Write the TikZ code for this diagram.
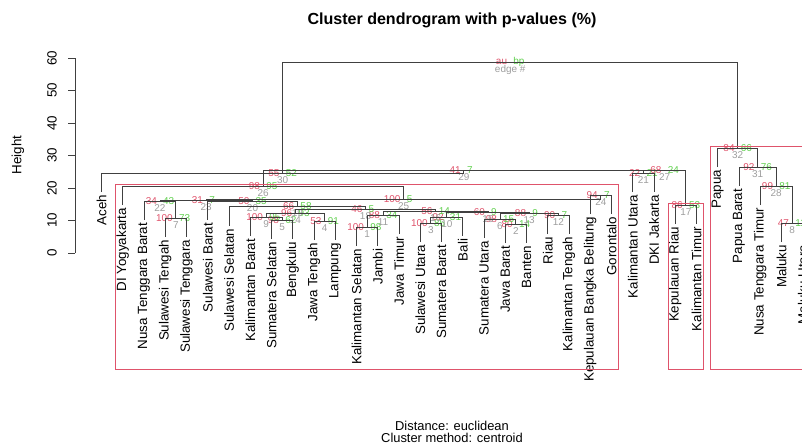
\documentclass[tikz,border=0pt]{standalone}
\usepackage{fontspec}
\setmainfont{Liberation Sans}

\definecolor{aucol}{HTML}{DF536B}
\definecolor{bpcol}{HTML}{61D04F}
\definecolor{edgecol}{HTML}{9E9E9E}

\begin{document}
\begin{tikzpicture}[
  x=0.03cm, y=-0.03cm,
  every node/.style={font=\fontsize{11.4}{13}\selectfont},
  leaf/.style={rotate=90, anchor=east, inner xsep=2.5pt, inner ysep=0pt, outer sep=0pt},
  merge/.style={inner sep=0pt, outer sep=0pt, minimum size=0pt},
  branch/.style={draw=black!75, line width=0.7pt},
  au/.style={text=aucol, inner sep=0.5pt, font=\fontsize{8.5}{10}\selectfont},
  bp/.style={text=bpcol, inner sep=0.5pt, font=\fontsize{8.5}{10}\selectfont},
  edgenum/.style={text=edgecol, inner sep=0.5pt, font=\fontsize{8.5}{10}\selectfont},
  pvrect/.style={draw=aucol, line width=0.7pt},
  label distance=2pt
]
\useasboundingbox (0,0) rectangle (802,448);
\clip (0,0) rectangle (802,448);

% Title and axis
\node[font=\bfseries\fontsize{13.7}{16}\selectfont] (title) at (452,20) {Cluster dendrogram with p-values (\%)};
\node[rotate=90] (ylab) at (18,155) {Height};
\draw[branch] (75,58) -- (75,253);
\foreach \h in {0,10,...,60} {
  \pgfmathsetmacro{\yy}{253-3.25*\h}
  \draw[branch] (75,\yy) -- (68,\yy);
  \node[rotate=90] (tick\h) at (52,\yy) {\h};
}
\node[align=center, font=\fontsize{11}{10.2}\selectfont] (sub) at (452,432) {Distance: euclidean\\Cluster method: centroid};

% Leaves
\node[leaf] (aceh) at (101.5,192) {Aceh};
\node[leaf] (diy) at (122.75,205) {DI Yogyakarta};
\node[leaf] (ntb) at (144,220) {Nusa Tenggara Barat};
\node[leaf] (sulteng) at (165.25,237) {Sulawesi Tengah};
\node[leaf] (sultra) at (186.5,237) {Sulawesi Tenggara};
\node[leaf] (sulbar) at (207.75,220) {Sulawesi Barat};
\node[leaf] (sulsel) at (229,226) {Sulawesi Selatan};
\node[leaf] (kalbar) at (250.25,236) {Kalimantan Barat};
\node[leaf] (sumsel) at (271.5,239) {Sumatera Selatan};
\node[leaf] (bengkulu) at (292.75,239) {Bengkulu};
\node[leaf] (jateng) at (314,240) {Jawa Tengah};
\node[leaf] (lampung) at (335.25,240) {Lampung};
\node[leaf] (kalsel) at (356.5,246) {Kalimantan Selatan};
\node[leaf] (jambi) at (377.75,246) {Jambi};
\node[leaf] (jatim) at (399,234) {Jawa Timur};
\node[leaf] (sulut) at (420.25,242) {Sulawesi Utara};
\node[leaf] (sumbar) at (441.5,242) {Sumatera Barat};
\node[leaf] (bali) at (462.75,236) {Bali};
\node[leaf] (sumut) at (484,238) {Sumatera Utara};
\node[leaf] (jabar) at (505.25,243) {Jawa Barat};
\node[leaf] (banten) at (526.5,243) {Banten};
\node[leaf] (riau) at (547.75,234) {Riau};
\node[leaf] (kalteng) at (569,234) {Kalimantan Tengah};
\node[leaf] (babel) at (590.25,214) {Kepulauan Bangka Belitung};
\node[leaf] (gorontalo) at (611.5,214) {Gorontalo};
\node[leaf] (kalut) at (632.75,192) {Kalimantan Utara};
\node[leaf] (dki) at (654,192) {DKI Jakarta};
\node[leaf] (kepri) at (675.25,224) {Kepulauan Riau};
\node[leaf] (kaltim) at (696.5,224) {Kalimantan Timur};
\node[leaf] (papua) at (717.75,167) {Papua};
\node[leaf] (papbar) at (739,186) {Papua Barat};
\node[leaf] (ntt) at (760.25,205) {Nusa Tenggara Timur};
\node[leaf] (maluku) at (781.5,242) {Maluku};
\node[leaf] (malut) at (802.75,242) {Maluku Utara};

% Merges with au / bp / edge numbers
\node[merge, label={[au]left:100}, label={[bp]right:98}, label={[edgenum]below:1}] (e1) at (367.1,227) {};
\node[merge, label={[au]left:80}, label={[bp]right:14}, label={[edgenum]below:2}] (e2) at (515.9,224) {};
\node[merge, label={[au]left:100}, label={[bp]right:85}, label={[edgenum]below:3}] (e3) at (430.9,223) {};
\node[merge, label={[au]left:53}, label={[bp]right:91}, label={[edgenum]below:4}] (e4) at (324.6,221) {};
\node[merge, label={[au]left:98}, label={[bp]right:62}, label={[edgenum]below:5}] (e5) at (282.1,220) {};
\node[merge, label={[au]left:98}, label={[bp]right:15}, label={[edgenum]below:6}] (e6) at (500,219) {};
\node[merge, label={[au]left:100}, label={[bp]right:73}, label={[edgenum]below:7}] (e7) at (175.9,218) {};
\node[merge, label={[au]left:47}, label={[bp]right:11}, label={[edgenum]below:8}] (e8) at (792.1,223) {};
\node[merge, label={[au]left:100}, label={[bp]right:95}, label={[edgenum]below:9}] (e9) at (266.2,217) {};
\node[merge, label={[au]left:92}, label={[bp]right:31}, label={[edgenum]below:10}] (e10) at (446.8,217) {};
\node[merge, label={[au]left:88}, label={[bp]right:34}, label={[edgenum]below:11}] (e11) at (383.1,215) {};
\node[merge, label={[au]left:90}, label={[bp]right:7}, label={[edgenum]below:12}] (e12) at (558.4,215) {};
\node[merge, label={[au]left:88}, label={[bp]right:9}, label={[edgenum]below:13}] (e13) at (529.2,213) {};
\node[merge, label={[au]left:96}, label={[bp]right:93}, label={[edgenum]below:14}] (e14) at (295.4,213) {};
\node[merge, label={[au]left:60}, label={[bp]right:9}, label={[edgenum]below:15}] (e15) at (488,212) {};
\node[merge, label={[au]left:56}, label={[bp]right:14}, label={[edgenum]below:16}] (e16) at (435.6,211) {};
\node[merge, label={[au]left:86}, label={[bp]right:53}, label={[edgenum]below:17}] (e17) at (685.9,205) {};
\node[merge, label={[au]left:46}, label={[bp]right:5}, label={[edgenum]below:18}] (e18) at (365.5,209) {};
\node[merge, label={[au]left:66}, label={[bp]right:58}, label={[edgenum]below:19}] (e19) at (297.3,206) {};
\node[merge, label={[au]left:50}, label={[bp]right:35}, label={[edgenum]below:20}] (e20) at (252.5,201) {};
\node[merge, label={[au]left:22}, label={[bp]right:21}, label={[edgenum]below:21}] (e21) at (643.4,173) {};
\node[merge, label={[au]left:34}, label={[bp]right:43}, label={[edgenum]below:22}] (e22) at (160,201) {};
\node[merge, label={[au]left:31}, label={[bp]right:7}, label={[edgenum]below:23}] (e23) at (206.2,200) {};
\node[merge, label={[au]left:94}, label={[bp]right:7}, label={[edgenum]below:24}] (e24) at (600.9,195) {};
\node[merge, label={[au]left:100}, label={[bp]right:5}, label={[edgenum]below:25}] (e25) at (403.6,199) {};
\node[merge, label={[au]left:98}, label={[bp]right:95}, label={[edgenum]below:26}] (e26) at (263.2,186) {};
\node[merge, label={[au]left:68}, label={[bp]right:24}, label={[edgenum]below:27}] (e27) at (664.6,170) {};
\node[merge, label={[au]left:99}, label={[bp]right:81}, label={[edgenum]below:28}] (e28) at (776.2,186) {};
\node[merge, label={[au]left:41}, label={[bp]right:7}, label={[edgenum]below:29}] (e29) at (463.9,170) {};
\node[merge, label={[au]left:55}, label={[bp]right:52}, label={[edgenum]below:30}] (e30) at (282.7,173) {};
\node[merge, label={[au]left:92}, label={[bp]right:76}, label={[edgenum]below:31}] (e31) at (757.6,167) {};
\node[merge, label={[au]left:84}, label={[bp]right:66}, label={[edgenum]below:32}] (e32) at (737.7,148) {};
\node[merge, label={[au]left:au}, label={[bp]right:bp}, label={[edgenum]below:edge \#}] (root) at (510.2,62) {};

% Branches
\draw[branch] (kalsel) |- (e1) -| (jambi);
\draw[branch] (jabar) |- (e2) -| (banten);
\draw[branch] (sulut) |- (e3) -| (sumbar);
\draw[branch] (jateng) |- (e4) -| (lampung);
\draw[branch] (sumsel) |- (e5) -| (bengkulu);
\draw[branch] (sumut) |- (e6) -| (e2);
\draw[branch] (sulteng) |- (e7) -| (sultra);
\draw[branch] (maluku) |- (e8) -| (malut);
\draw[branch] (kalbar) |- (e9) -| (e5);
\draw[branch] (e3) |- (e10) -| (bali);
\draw[branch] (e1) |- (e11) -| (jatim);
\draw[branch] (riau) |- (e12) -| (kalteng);
\draw[branch] (e6) |- (e13) -| (e12);
\draw[branch] (e9) |- (e14) -| (e4);
\draw[branch] (e10) |- (e15) -| (e13);
\draw[branch] (e11) |- (e16) -| (e15);
\draw[branch] (kepri) |- (e17) -| (kaltim);
\draw[branch] (e14) |- (e18) -| (e16);
\draw[branch] (sulsel) |- (e19) -| (e18);
\draw[branch] (sulbar) |- (e20) -| (e19);
\draw[branch] (kalut) |- (e21) -| (dki);
\draw[branch] (ntb) |- (e22) -| (e7);
\draw[branch] (e22) |- (e23) -| (e20);
\draw[branch] (babel) |- (e24) -| (gorontalo);
\draw[branch] (e23) |- (e25) -| (e24);
\draw[branch] (diy) |- (e26) -| (e25);
\draw[branch] (e21) |- (e27) -| (e17);
\draw[branch] (ntt) |- (e28) -| (e8);
\draw[branch] (e26) |- (e29) -| (e27);
\draw[branch] (aceh) |- (e30) -| (e29);
\draw[branch] (papbar) |- (e31) -| (e28);
\draw[branch] (papua) |- (e32) -| (e31);
\draw[branch] (e30) |- (root) -| (e32);

% Clusters with high au
\draw[pvrect] (115.5,184.5) rectangle (618.5,369.5);
\draw[pvrect] (668,203.5) rectangle (703.8,369.5);
\draw[pvrect] (710.5,146.5) rectangle (812,369.5);

\end{tikzpicture}
\end{document}
